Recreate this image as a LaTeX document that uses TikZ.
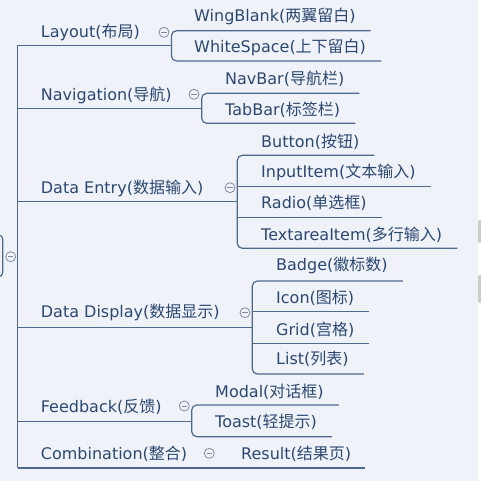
\documentclass[tikz,border=0pt]{standalone}
\usepackage{fontspec}
\setmainfont{DejaVu Sans}
\newfontfamily\cjk{Noto Sans CJK SC}
\newcommand\zh[1]{{\cjk #1}}
\definecolor{mapbg}{RGB}{240,242,249}
\definecolor{mapline}{RGB}{78,104,142}
\definecolor{maptext}{RGB}{44,72,112}
\definecolor{foldgray}{RGB}{128,140,162}
\tikzset{
  topic/.style={anchor=west, inner sep=0pt, text=maptext, font=\fontsize{16bp}{19bp}\selectfont},
  branch/.style={draw=mapline, line width=1.2bp},
  fold/.style={circle, draw=foldgray, fill=mapbg, minimum size=10bp, inner sep=0pt, line width=0.8bp,
    path picture={\draw[foldgray, line width=0.8bp] ([xshift=-2.6bp]path picture bounding box.center) -- ([xshift=2.6bp]path picture bounding box.center);}},
}
\begin{document}
\begin{tikzpicture}[x=1bp,y=-1bp]
    \fill[mapbg] (0,0) rectangle (481,481);
    \useasboundingbox (0,0) rectangle (481,481);
    \clip (0,0) rectangle (481,481);
    \fill[white] (478,0) rectangle (481,481);
    \fill[gray!40, rounded corners=2bp] (478,220) rectangle (486,243);
    \fill[gray!40, rounded corners=2bp] (478,275) rectangle (486,303);
    % root and trunk
    \draw[branch, rounded corners=4bp] (-10,235) -- (2.7,235) -- (2.7,276.7) -- (-10,276.7);
    \node[fold] (root) at (10.7,256.7) {};
    \coordinate (trunkT) at (17.5,45.3);
    \coordinate (trunkB) at (17.5,468);
    \draw[branch] (trunkT) -- (trunkB);
    % Layout
    \node[topic] (layout) at (40.7,32) {Layout(\zh{布局})};
    \node[fold] (layoutF) at (164,32.3) {};
    \coordinate (layoutT) at (171.5,30.7);
    \coordinate (layoutB) at (171.5,61);
    \draw[branch] (trunkT) -- (trunkT -| layoutT);
    \node[topic] (wing) at (194,16) {WingBlank(\zh{两翼留白})};
    \node[topic] (white) at (194,47.7) {WhiteSpace(\zh{上下留白})};
    \draw[branch, rounded corners=5bp] ([xshift=15bp]wing.east |- layoutT) -- (layoutT) -- (layoutB) -- ([xshift=15bp]white.east |- layoutB);
    % Navigation
    \node[topic] (nav) at (40.7,95) {Navigation(\zh{导航})};
    \node[fold] (navF) at (194,94.3) {};
    \coordinate (navJ) at (201.7,108.3);
    \coordinate (navT) at (201.7,93.3);
    \coordinate (navB) at (201.7,123.3);
    \draw[branch] (trunkT |- navJ) -- (navJ);
    \node[topic] (navbar) at (225,79) {NavBar(\zh{导航栏})};
    \node[topic] (tabbar) at (225,109.3) {TabBar(\zh{标签栏})};
    \draw[branch, rounded corners=5bp] ([xshift=15bp]navbar.east |- navT) -- (navT) -- (navB) -- ([xshift=15bp]tabbar.east |- navB);
    % Data Entry
    \node[topic] (entry) at (40.7,188.3) {Data Entry(\zh{数据输入})};
    \node[fold] (entryF) at (230,187.7) {};
    \coordinate (entryJ) at (237.3,201.7);
    \coordinate (entryT) at (237.3,155.3);
    \coordinate (entry2) at (237.3,186.7);
    \coordinate (entry3) at (237.3,217.3);
    \coordinate (entryB) at (237.3,248.3);
    \draw[branch] (trunkT |- entryJ) -- (entryJ);
    \node[topic] (button) at (261,141.7) {Button(\zh{按钮})};
    \node[topic] (input) at (261,172.7) {InputItem(\zh{文本输入})};
    \node[topic] (radio) at (261,203.3) {Radio(\zh{单选框})};
    \node[topic] (textarea) at (261,235) {TextareaItem(\zh{多行输入})};
    \draw[branch, rounded corners=5bp] ([xshift=15bp]button.east |- entryT) -- (entryT) -- (entryB) -- ([xshift=15bp]textarea.east |- entryB);
    \draw[branch] (entry2) -- ([xshift=15bp]input.east |- entry2);
    \draw[branch] (entry3) -- ([xshift=15bp]radio.east |- entry3);
    % Data Display
    \node[topic] (display) at (40.7,312.7) {Data Display(\zh{数据显示})};
    \node[fold] (displayF) at (245,312.7) {};
    \coordinate (displayJ) at (252.3,327.3);
    \coordinate (displayT) at (252.3,281);
    \coordinate (display2) at (252.3,311.7);
    \coordinate (display3) at (252.3,343.3);
    \coordinate (displayB) at (252.3,374);
    \draw[branch] (trunkT |- displayJ) -- (displayJ);
    \node[topic] (badge) at (276,265) {Badge(\zh{徽标数})};
    \node[topic] (icon) at (276,297.7) {Icon(\zh{图标})};
    \node[topic] (grid) at (276,329.3) {Grid(\zh{宫格})};
    \node[topic] (list) at (276,359.3) {List(\zh{列表})};
    \draw[branch, rounded corners=5bp] ([xshift=15bp]badge.east |- displayT) -- (displayT) -- (displayB) -- ([xshift=15bp]list.east |- displayB);
    \draw[branch] (display2) -- ([xshift=15bp]icon.east |- display2);
    \draw[branch] (display3) -- ([xshift=15bp]grid.east |- display3);
    % Feedback
    \node[topic] (feedback) at (40.7,406.7) {Feedback(\zh{反馈})};
    \node[fold] (feedbackF) at (184.3,406) {};
    \coordinate (feedbackJ) at (191.7,421.7);
    \coordinate (feedbackT) at (191.7,405);
    \coordinate (feedbackB) at (191.7,436.7);
    \draw[branch] (trunkT |- feedbackJ) -- (feedbackJ);
    \node[topic] (modal) at (215,391.7) {Modal(\zh{对话框})};
    \node[topic] (toast) at (215,421.7) {Toast(\zh{轻提示})};
    \draw[branch, rounded corners=5bp] ([xshift=15bp]modal.east |- feedbackT) -- (feedbackT) -- (feedbackB) -- ([xshift=15bp]toast.east |- feedbackB);
    % Combination
    \node[topic] (combo) at (40.7,454.3) {Combination(\zh{整合})};
    \node[fold] (comboF) at (209.3,453.3) {};
    \node[topic] (result) at (241,454.3) {Result(\zh{结果页})};
    \draw[branch] (trunkB) -- ([xshift=14bp]result.east |- trunkB);
\end{tikzpicture}
\end{document}
